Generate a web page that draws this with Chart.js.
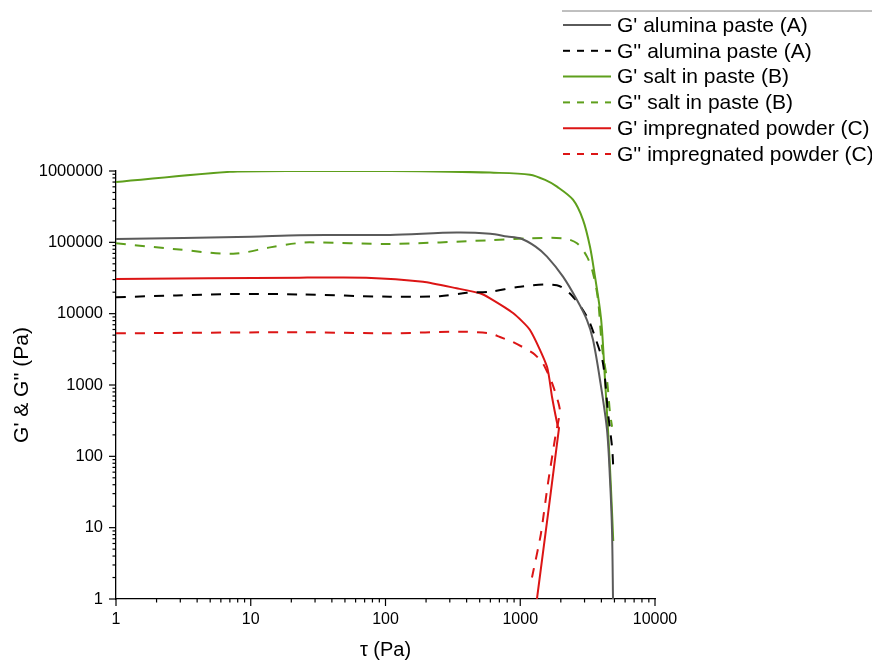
<!DOCTYPE html>
<html>
<head>
<meta charset="utf-8">
<script src="https://cdn.jsdelivr.net/npm/chart.js@4.4.1/dist/chart.umd.min.js"></script>
<style>
html, body { margin: 0; padding: 0; background: #fff; }
#wrap { width: 872px; height: 660px; }
</style>
</head>
<body>
<div id="wrap"><canvas id="chart" width="872" height="660"></canvas></div>
<script>
// decades that carry a label on each axis
const xDecades = [1, 10, 100, 1000, 10000]
const yDecades = [1, 10, 100, 1000, 10000, 100000, 1000000]

// G' alumina paste (A)
const gpA_x = [1, 10, 23, 108, 337, 600, 800, 1000, 1300, 1580, 2076, 2637, 3128, 3467, 3908, 4405, 4636, 4797, 4880]
const gpA_y = [111000, 120000, 126000, 127000, 137000, 132000, 121000, 114000, 87000, 63000, 33000, 15500, 8100, 4300, 1175, 234, 47, 9.3, 1]
// G'' alumina paste (A)
const gppA_x = [1, 2.8, 7.4, 23, 108, 253, 400, 600, 1000, 1870, 2460, 3130, 3590, 4115, 4480, 4800, 4900]
const gppA_y = [17000, 18000, 18900, 18600, 17300, 17600, 19600, 20300, 23900, 25000, 17300, 9000, 4700, 2000, 405, 135, 71]
// G' salt in paste (B)
const gpB_x = [1, 7.4, 23, 108, 301, 597, 1181, 1530, 1874, 2462, 2922, 3296, 3590, 3908, 4045, 4257, 4480, 4700, 4900]
const gpB_y = [700000, 980000, 1000000, 1000000, 980000, 950000, 888000, 750000, 603000, 396000, 207000, 86000, 32700, 11300, 5900, 1175, 234, 40, 6.5]
// G'' salt in paste (B)
const gppB_x = [1, 2.8, 7.4, 13.9, 21.8, 27.5, 108, 597, 1181, 2076, 2637, 3128, 3467, 3777, 4045, 4405, 4636, 4800]
const gppB_y = [97000, 80000, 69000, 85000, 97000, 100000, 95000, 107000, 114000, 114000, 97000, 63000, 37000, 15600, 3400, 1175, 405, 260]
// G' impregnated powder (C)
const gpC_x = [1, 23, 72, 190, 337, 502, 597, 884, 1181, 1580, 1721, 1906, 1940, 1330]
const gpC_y = [30600, 32000, 32000, 28000, 22700, 19300, 16400, 10200, 5900, 1800, 680, 258, 250, 1]
// G'' impregnated powder (C)
const gppC_x = [1, 23, 108, 358, 597, 707, 884, 1244, 1475, 1721, 1967, 1830, 1600, 1420, 1222]
const gppC_y = [5300, 5500, 5300, 5600, 5300, 4700, 4000, 2800, 2000, 1070, 450, 200, 40, 8, 2]

const pts = (xs, ys) => xs.map((x, i) => ({x: x, y: ys[i]}))

const GRAY = '#5a5a5a'
const BLACK = '#000000'
const GREEN = '#5e9f1c'
const RED = '#dc1515'
const DASH = [10, 9]
const FONT = "'Liberation Sans', Arial, sans-serif"

function logTicks(decades) {
    const out = []
    for (let i = 0; i < decades.length - 1; i++) {
        for (let m = 1; m < 10; m++) out.push({value: decades[i] * m})
    }
    out.push({value: decades[decades.length - 1]})
    return out
}

// outward tick marks, long at decades, short in between
const tickMarks = {
    id: 'tickMarks',
    afterDraw(chart) {
        const ctx = chart.ctx
        const area = chart.chartArea
        ctx.save()
        ctx.strokeStyle = '#000'
        ctx.lineWidth = 1.2
        chart.scales.x.ticks.forEach(t => {
            const px = chart.scales.x.getPixelForValue(t.value)
            const len = xDecades.includes(t.value) ? 7 : 3.5
            ctx.beginPath()
            ctx.moveTo(px, area.bottom)
            ctx.lineTo(px, area.bottom + len)
            ctx.stroke()
        })
        chart.scales.y.ticks.forEach(t => {
            const py = chart.scales.y.getPixelForValue(t.value)
            const len = yDecades.includes(t.value) ? 7 : 3.5
            ctx.beginPath()
            ctx.moveTo(area.left, py)
            ctx.lineTo(area.left - len, py)
            ctx.stroke()
        })
        ctx.restore()
    }
}

// single column legend in the top right corner
const cornerLegend = {
    id: 'cornerLegend',
    afterDraw(chart) {
        const ctx = chart.ctx
        ctx.save()
        ctx.strokeStyle = '#808080'
        ctx.lineWidth = 1
        ctx.beginPath()
        ctx.moveTo(562, 11)
        ctx.lineTo(872, 11)
        ctx.stroke()
        ctx.font = '21px ' + FONT
        ctx.textBaseline = 'middle'
        ctx.fillStyle = '#000'
        chart.data.datasets.forEach((ds, i) => {
            const y = 25 + 25.8 * i
            ctx.strokeStyle = ds.borderColor
            ctx.lineWidth = 2
            ctx.setLineDash(ds.borderDash.length ? [7, 7] : [])
            ctx.beginPath()
            ctx.moveTo(563, y)
            ctx.lineTo(611, y)
            ctx.stroke()
            ctx.setLineDash([])
            ctx.fillText(ds.label, 617, y + 1)
        })
        ctx.restore()
    }
}

function series(label, xs, ys, color, dashed, tension) {
    return {
        label: label,
        data: pts(xs, ys),
        borderColor: color,
        backgroundColor: color,
        borderWidth: 2,
        borderDash: dashed ? DASH : [],
        pointRadius: 0,
        showLine: true,
        tension: tension,
        fill: false
    }
}

new Chart(document.getElementById('chart'), {
    type: 'scatter',
    data: {
        datasets: [
            series("G' alumina paste (A)", gpA_x, gpA_y, GRAY, false, 0.3),
            series("G'' alumina paste (A)", gppA_x, gppA_y, BLACK, true, 0.3),
            series("G' salt in paste (B)", gpB_x, gpB_y, GREEN, false, 0.3),
            series("G'' salt in paste (B)", gppB_x, gppB_y, GREEN, true, 0.3),
            series("G' impregnated powder (C)", gpC_x, gpC_y, RED, false, 0.2),
            series("G'' impregnated powder (C)", gppC_x, gppC_y, RED, true, 0.2)
        ]
    },
    options: {
        responsive: false,
        animation: false,
        layout: { padding: { left: 0, top: 171, right: 217, bottom: 0 } },
        plugins: {
            legend: { display: false },
            tooltip: { enabled: false }
        },
        scales: {
            x: {
                type: 'logarithmic',
                min: 1,
                max: 10000,
                afterBuildTicks: scale => { scale.ticks = logTicks(xDecades) },
                afterFit: scale => { scale.height = 61 },
                grid: { display: false, drawTicks: false },
                border: { display: true, color: '#000', width: 1.3 },
                ticks: {
                    autoSkip: false,
                    maxRotation: 0,
                    padding: 11,
                    color: '#000',
                    font: { family: FONT, size: 16 },
                    callback: v => xDecades.includes(v) ? String(v) : ''
                },
                title: {
                    display: true,
                    text: 'τ (Pa)',
                    color: '#000',
                    font: { family: FONT, size: 20, lineHeight: 1 },
                    padding: { top: 0, bottom: 0 }
                }
            },
            y: {
                type: 'logarithmic',
                min: 1,
                max: 1000000,
                afterBuildTicks: scale => { scale.ticks = logTicks(yDecades) },
                afterFit: scale => { scale.width = 116 },
                grid: { display: false, drawTicks: false },
                border: { display: true, color: '#000', width: 1.3 },
                ticks: {
                    autoSkip: false,
                    padding: 13,
                    color: '#000',
                    font: { family: FONT, size: 16.5 },
                    callback: v => yDecades.includes(v) ? String(v) : ''
                },
                title: {
                    display: true,
                    text: "G' & G'' (Pa)",
                    color: '#000',
                    font: { family: FONT, size: 21, lineHeight: 1.2 },
                    padding: { top: 10, bottom: 0 }
                }
            }
        }
    },
    plugins: [tickMarks, cornerLegend]
})
</script>
</body>
</html>
